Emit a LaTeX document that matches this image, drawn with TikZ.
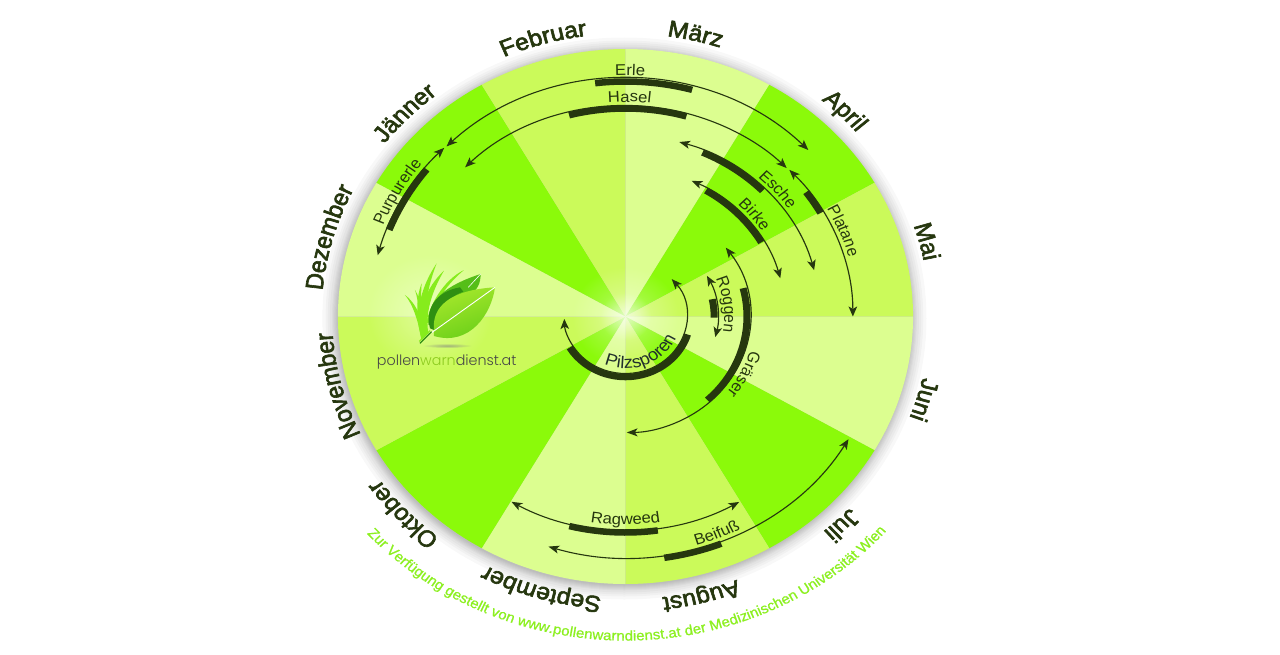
\documentclass[tikz,border=0pt]{standalone}
\usepackage{fontspec}
\usetikzlibrary{arrows.meta,decorations.text,fadings}
\setmainfont{Liberation Sans}
\newfontfamily\medfont[FakeBold=2.6]{Liberation Sans}
\newfontfamily\creditbase[FakeBold=0.8]{Liberation Sans}
\newfontfamily\logofont{Poppins Light}
\definecolor{bright}{HTML}{8BFA0A}
\definecolor{midg}{HTML}{CBFA5A}
\definecolor{lightg}{HTML}{DCFE90}
\definecolor{ink}{HTML}{26370F}
\definecolor{credit}{HTML}{8CF020}
\definecolor{leafdark}{HTML}{2F8F12}
\definecolor{leafmid}{HTML}{55BE18}
\definecolor{leafa}{HTML}{63CC16}
\definecolor{leafb}{HTML}{A6E82C}
\definecolor{blade}{HTML}{86EC1C}
\definecolor{warn}{HTML}{8CCB1E}
\newcommand{\monthfont}{\fontsize{23}{25}\medfont\color{ink}}
\newcommand{\labelfont}{\fontsize{15.5}{17}\selectfont\color{ink}}
\newcommand{\pilzfont}{\fontsize{17}{18}\selectfont\color{ink!88!blue}}
\newcommand{\creditfont}{\fontsize{14}{16}\creditbase\color{credit}}
\tikzfading[name=glowfade, inner color=transparent!0, outer color=transparent!100]
\tikzset{
  thinarc/.style={ink, line width=1.1pt, {Stealth[length=10pt,width=8pt,inset=2.5pt]}-{Stealth[length=10pt,width=8pt,inset=2.5pt]}},
  bararc/.style={ink, line width=6.5pt},
}
\newcommand{\sector}[3]{\fill[#3] (0,0) -- (#1:267.5pt) arc[start angle=#1,end angle=#2,radius=267.5pt] -- cycle;}
\newcommand{\pollen}[6]{%
  \draw[thinarc] (#2:#1pt) arc[start angle=#2,end angle=#3,radius=#1pt];
  \draw[bararc] (#5:#4pt) arc[start angle=#5,end angle=#6,radius=#4pt];}
% clockwise text: letter tops outward
\newcommand{\cwtext}[5]{\path[decorate,decoration={text along path,text align=center,text={|#4|#5}}]
  (#2+#3:#1pt) arc[start angle=#2+#3,end angle=#2-#3,radius=#1pt];}
% counter-clockwise text: letter tops inward
\newcommand{\ccwtext}[5]{\path[decorate,decoration={text along path,text align=center,text={|#4|#5}}]
  (#2-#3:#1pt) arc[start angle=#2-#3,end angle=#2+#3,radius=#1pt];}
\begin{document}
\begin{tikzpicture}[x=1pt,y=1pt]
\useasboundingbox (-625.5,-337.5) rectangle (654.5,316.5);
\fill[white] (-625.5,-337.5) rectangle (654.5,316.5);
\begin{scope}[transform canvas={xscale=1.075}]
  % soft shadow
  \foreach \i in {1,2,3,4,5,6,8,10,12,15}{\fill[black,opacity=0.026] (-1,-2) circle[radius=266+\i];}
  % month sectors
  \sector{90}{60}{lightg}
  \sector{60}{30}{bright}
  \sector{30}{0}{midg}
  \sector{0}{-30}{lightg}
  \sector{-30}{-60}{bright}
  \sector{-60}{-90}{midg}
  \sector{-90}{-120}{lightg}
  \sector{-120}{-150}{bright}
  \sector{-150}{-180}{midg}
  \sector{180}{150}{lightg}
  \sector{150}{120}{bright}
  \sector{120}{90}{midg}
  % central glow
  \fill[white,opacity=0.4,path fading=glowfade] (0,0) circle[radius=50];
  \fill[white,opacity=0.6,path fading=glowfade] (0,0) circle[radius=24];
  % logo glow
  \fill[white,opacity=0.4,path fading=glowfade] (-182,4) circle[radius=58];
  % pollen arcs
  \pollen{238}{134.4}{44.4}{235}{96.9}{74.7}
  \pollen{211}{135}{44.7}{208}{104.6}{74.2}
  \pollen{238.5}{135}{165.1}{236.3}{141.5}{158.5}
  \pollen{181.5}{74}{14.8}{179}{66.4}{44.6}
  \pollen{149}{65.6}{14.9}{146.5}{59.3}{30.4}
  \pollen{211.5}{43.9}{0}{209}{36.5}{29.7}
  \pollen{86}{28.2}{-13.8}{82.5}{12.1}{-0.8}
  \pollen{116}{36.4}{-89.4}{113}{14.5}{-47.6}
  \pollen{57}{41}{-177.5}{60.5}{-17.3}{-149.1}
  \pollen{213.5}{-60.3}{-119.8}{216}{-82}{-104}
  \pollen{241}{-30.6}{-107.3}{244}{-68.6}{-81.5}
  % pollen labels
  \cwtext{241}{89}{20}{\labelfont}{Erle}
  \cwtext{214.5}{89}{20}{\labelfont}{Hasel}
  \cwtext{243}{149.6}{30}{\labelfont}{Purpurerle}
  \cwtext{186}{41.9}{30}{\labelfont}{Esche}
  \cwtext{153}{40.4}{30}{\labelfont}{Birke}
  \cwtext{216}{22.9}{30}{\labelfont}{Platane}
  \cwtext{92}{7.2}{50}{\labelfont}{Roggen}
  \cwtext{121}{-27.7}{40}{\labelfont}{Gräser}
  \ccwtext{52}{-68.5}{70}{\pilzfont}{Pilzsporen}
  \ccwtext{208}{-90}{30}{\labelfont}{Ragweed}
  \ccwtext{238}{-68.6}{20}{\labelfont}{Beifuß}
  % months
  \cwtext{283}{105.4}{20}{\monthfont}{Februar}
  \cwtext{283}{77}{20}{\monthfont}{März}
  \cwtext{283}{45.2}{20}{\monthfont}{April}
  \cwtext{283}{15}{20}{\monthfont}{Mai}
  \cwtext{283}{-16.7}{20}{\monthfont}{Juni}
  \cwtext{283}{-46}{20}{\monthfont}{Juli}
  \cwtext{283}{-75.8}{20}{\monthfont}{August}
  \cwtext{281}{-106}{25}{\monthfont}{September}
  \cwtext{281}{-136.3}{20}{\monthfont}{Oktober}
  \cwtext{273}{-165.5}{25}{\monthfont}{November}
  \cwtext{283}{164}{25}{\monthfont}{Dezember}
  \cwtext{283}{135.3}{20}{\monthfont}{Jänner}
  % credit line
  \ccwtext{324}{-89.7}{70}{\creditfont}{Zur Verfügung gestellt von www.pollenwarndienst.at der Medizinischen Universität Wien}
\end{scope}
% logo, coordinates read from the reference crop
\begin{scope}[x=0.3333pt,y=-0.3333pt,shift={(-265.5pt,66.5pt)}]
  \fill[gray,opacity=0.6,path fading=glowfade] (262,287) ellipse[x radius=75,y radius=7];
  % grass blades
  \fill[blade] (190,262) .. controls (165,215) and (170,130) .. (230,40) .. controls (195,130) and (190,210) .. (205,250) -- cycle;
  \fill[blade] (190,262) .. controls (165,190) and (200,110) .. (252,62) .. controls (215,125) and (195,190) .. (205,250) -- cycle;
  \fill[blade] (200,220) .. controls (205,170) and (250,90) .. (312,60) .. controls (265,100) and (225,150) .. (212,215) -- cycle;
  \fill[blade] (185,270) .. controls (170,215) and (165,150) .. (185,100) .. controls (180,160) and (190,210) .. (200,255) -- cycle;
  \fill[blade] (185,270) .. controls (175,215) and (160,165) .. (135,135) .. controls (165,155) and (190,210) .. (198,255) -- cycle;
  \fill[blade] (185,265) .. controls (178,205) and (178,160) .. (165,120) .. controls (185,150) and (190,205) .. (196,250) -- cycle;
  % back leaf
  \fill[leafmid] (205,225) .. controls (200,150) and (260,105) .. (362,72) .. controls (362,100) and (352,120) .. (330,135) -- (250,180) -- cycle;
  \draw[white,line width=0.6pt] (362,72) -- (325,112);
  % front leaf
  \fill[leafdark] (210,235) .. controls (195,180) and (225,125) .. (300,112) -- (310,125) .. controls (255,145) and (225,190) .. (222,240) -- cycle;
  \shade[left color=leafa, right color=leafb, shading angle=200]
     (222,240) .. controls (215,170) and (270,120) .. (405,112) .. controls (395,190) and (330,290) .. (222,258) -- cycle;
  \draw[white,line width=0.9pt] (215,248) -- (405,112);
  \draw[leafdark,line width=1.2pt] (180,280) -- (215,245);
  \draw[blade,line width=1.2pt] (178,274) -- (210,242);
  \node[anchor=center,font=\logofont\fontsize{14.3}{16}\selectfont,text=black!72] (logotext) at (260,337)
     {pollen{\color{warn}warn}dienst.at};
\end{scope}
\end{tikzpicture}
\end{document}
